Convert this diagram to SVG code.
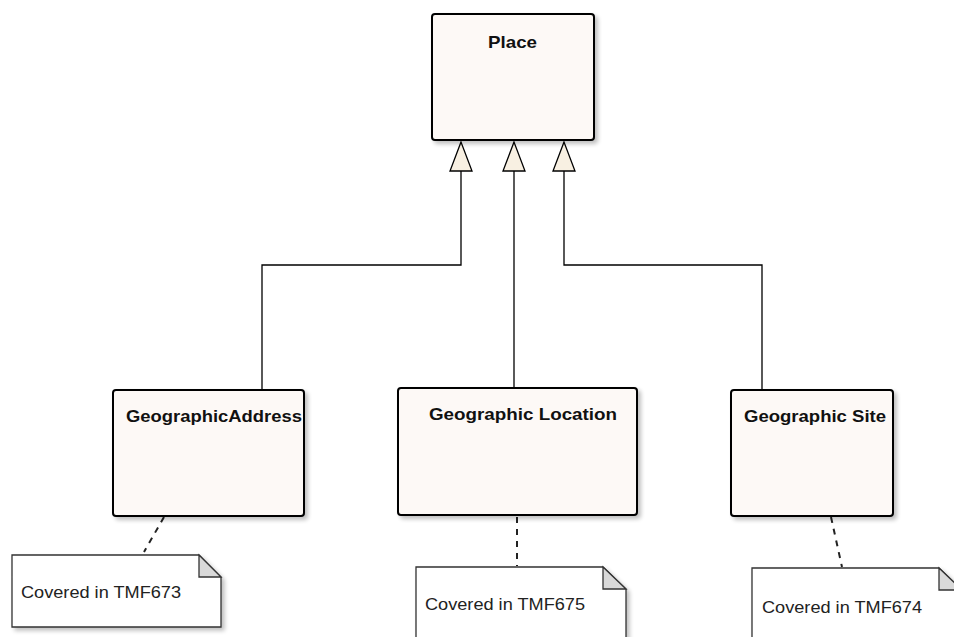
<svg xmlns="http://www.w3.org/2000/svg" width="954" height="637" viewBox="0 0 954 637">
<defs>
<filter id="sh" x="-10%" y="-10%" width="130%" height="130%">
<feGaussianBlur in="SourceAlpha" stdDeviation="2"/>
<feOffset dx="3" dy="3"/>
<feComponentTransfer><feFuncA type="linear" slope="0.25"/></feComponentTransfer>
<feMerge><feMergeNode/><feMergeNode in="SourceGraphic"/></feMerge>
</filter>
</defs>
<style>
.cls{fill:#FDF9F6;stroke:#000;stroke-width:2;filter:url(#sh)}
.title{font-family:"Liberation Sans",Arial,sans-serif;font-weight:bold;font-size:16px;fill:#111}
.note{fill:#fff;stroke:#333;stroke-width:1.3;filter:url(#sh)}
.fold{fill:#D9D9D9;stroke:#333;stroke-width:1.3}
.ntxt{font-family:"Liberation Sans",Arial,sans-serif;font-size:16px;fill:#222}
.line{fill:none;stroke:#000;stroke-width:1.3}
.dash{fill:none;stroke:#222;stroke-width:2;stroke-dasharray:6,6}
.tri{fill:#F8F0E2;stroke:#000;stroke-width:1.3}
</style>
<g id="connectors">
<polyline class="line" points="461,171 461,265 262,265 262,390"/>
<line class="line" x1="514" y1="171" x2="514" y2="388"/>
<polyline class="line" points="564,171 564,265 762,265 762,390"/>
<polygon class="tri" points="461,142 450,171 472,171"/>
<polygon class="tri" points="514,142 503,171 525,171"/>
<polygon class="tri" points="564,142 553,171 575,171"/>
<line class="dash" x1="164" y1="517" x2="144" y2="552"/>
<line class="dash" x1="517" y1="517" x2="517" y2="566"/>
<line class="dash" x1="831" y1="517" x2="842" y2="567"/>
</g>
<g id="place">
<rect class="cls" x="432" y="14" width="162" height="126" rx="3"/>
<text class="title" x="488" y="48" textLength="49" lengthAdjust="spacingAndGlyphs" style="font-size:17px">Place</text>
</g>
<g id="geographicAddress">
<rect class="cls" x="113" y="390" width="191" height="126" rx="3"/>
<text class="title" x="126" y="422" textLength="176" lengthAdjust="spacingAndGlyphs">GeographicAddress</text>
</g>
<g id="geographicLocation">
<rect class="cls" x="398" y="388" width="239" height="127" rx="3"/>
<text class="title" x="429" y="420" textLength="188" lengthAdjust="spacingAndGlyphs">Geographic Location</text>
</g>
<g id="geographicSite">
<rect class="cls" x="731" y="390" width="162" height="126" rx="3"/>
<text class="title" x="744" y="422" textLength="142" lengthAdjust="spacingAndGlyphs">Geographic Site</text>
</g>
<g id="note673">
<path class="note" d="M12,555 H199 L221,577 V627 H12 Z"/>
<path class="fold" d="M199,555 V577 H221 Z"/>
<text class="ntxt" x="21" y="598" textLength="160" lengthAdjust="spacingAndGlyphs">Covered in TMF673</text>
</g>
<g id="note675">
<path class="note" d="M416,567 H603 L626,589 V645 H416 Z"/>
<path class="fold" d="M603,567 V589 H626 Z"/>
<text class="ntxt" x="425" y="610" textLength="160" lengthAdjust="spacingAndGlyphs">Covered in TMF675</text>
</g>
<g id="note674">
<path class="note" d="M752,568 H939 L962,590 V645 H752 Z"/>
<path class="fold" d="M939,568 V590 H962 Z"/>
<text class="ntxt" x="762" y="613" textLength="160" lengthAdjust="spacingAndGlyphs">Covered in TMF674</text>
</g>
</svg>
